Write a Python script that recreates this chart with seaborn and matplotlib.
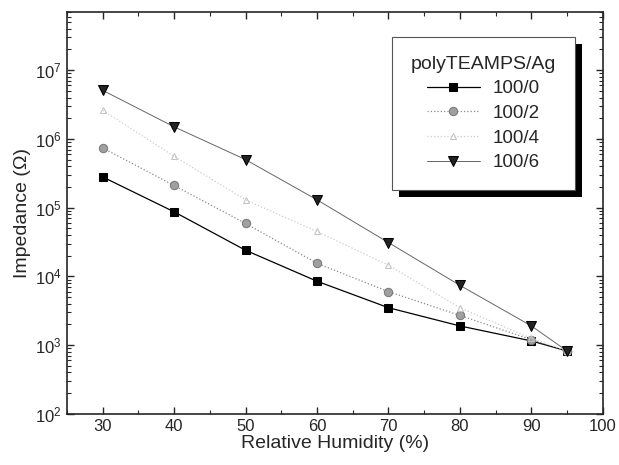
import matplotlib
matplotlib.use("Agg")
import matplotlib.pyplot as plt
import matplotlib.ticker as mticker
from matplotlib.patches import Rectangle
import numpy as np
import pandas as pd
import seaborn as sns

# dados
humidade = [30, 40, 50, 60, 70, 80, 90, 95]
imp_100_0 = [2.8e5, 8.7e4, 2.4e4, 8.5e3, 3.5e3, 1.9e3, 1.15e3, 820]
imp_100_2 = [7.4e5, 2.1e5, 5.9e4, 1.55e4, 6.0e3, 2.7e3, 1.2e3, 820]
imp_100_4 = [2.6e6, 5.6e5, 1.3e5, 4.5e4, 1.45e4, 3.5e3, 1.25e3, 820]
imp_100_6 = [5.1e6, 1.5e6, 5.0e5, 1.3e5, 3.1e4, 7.4e3, 1.9e3, 820]
rotulos = ["100/0", "100/2", "100/4", "100/6"]

series = [imp_100_0, imp_100_2, imp_100_4, imp_100_6]
df = pd.DataFrame({
    "rh": humidade * 4,
    "z": sum(series, []),
    "amostra": np.repeat(rotulos, len(humidade)),
})

sns.set_style("ticks")
plt.rcParams["font.family"] = ["Liberation Sans", "DejaVu Sans"]

# estilo de cada serie
estilos = {
    "100/0": dict(color="black", marker="s", ls="-", lw=0.9, mfc="black", mec="black", ms=6),
    "100/2": dict(color="#8a8a8a", marker="o", ls=":", lw=0.9, mfc="#a0a0a0", mec="#7a7a7a", ms=6),
    "100/4": dict(color="#cccccc", marker="^", ls=":", lw=0.9, mfc="none", mec="#c4c4c4", ms=5),
    "100/6": dict(color="#666666", marker="v", ls="-", lw=0.7, mfc="#222222", mec="black", ms=7),
}

fig = plt.figure(figsize=(6.19, 4.65), dpi=100)
ax = fig.add_axes([0.108, 0.110, 0.866, 0.864])

for nome in rotulos:
    st = estilos[nome]
    sub = df[df["amostra"] == nome]
    sns.lineplot(data=sub, x="rh", y="z", ax=ax, label=nome,
                 color=st["color"], linestyle=st["ls"], linewidth=st["lw"],
                 marker=st["marker"], markersize=st["ms"],
                 markerfacecolor=st["mfc"], markeredgecolor=st["mec"])

ax.set_yscale("log")
ax.set_xlim(25, 100)
ax.set_ylim(100, 7e7)
ax.xaxis.set_major_locator(mticker.MultipleLocator(10))
ax.xaxis.set_minor_locator(mticker.MultipleLocator(5))
ax.yaxis.set_major_locator(mticker.LogLocator(base=10, numticks=10))
ax.yaxis.set_minor_locator(mticker.LogLocator(base=10, subs=np.arange(2, 10), numticks=20))
ax.yaxis.set_minor_formatter(mticker.NullFormatter())

ax.tick_params(which="both", direction="in", top=True, right=True, labelsize=12)
ax.tick_params(which="major", length=5, width=1)
ax.tick_params(which="minor", length=3, width=0.8)
for sp in ax.spines.values():
    sp.set_linewidth(1.2)

ax.set_xlabel("Relative Humidity (%)", fontsize=14, labelpad=1)
ax.set_ylabel("Impedance (\u03a9)", fontsize=14, labelpad=3)

leg = ax.legend(title="polyTEAMPS/Ag", loc="upper right", bbox_to_anchor=(0.948, 0.938),
                borderaxespad=0, fontsize=13.5, title_fontsize=14, frameon=True,
                fancybox=False, shadow=False, handlelength=2.8, handletextpad=0.7,
                borderpad=1.0, labelspacing=0.4)
leg.get_frame().set_edgecolor("#555555")
leg.get_frame().set_linewidth(0.8)
leg.get_frame().set_alpha(1)
leg.set_zorder(10)

# sombra preta deslocada da legenda
fig.canvas.draw()
bb = leg.get_window_extent().transformed(fig.transFigure.inverted())
dx, dy = 7 / 619, 7 / 465
sombra = Rectangle((bb.x0 + dx, bb.y0 - dy), bb.width, bb.height,
                   transform=fig.transFigure, facecolor="black", edgecolor="none",
                   zorder=9, clip_on=False)
ax.add_artist(sombra)

fig.savefig("out.png", dpi=100)
